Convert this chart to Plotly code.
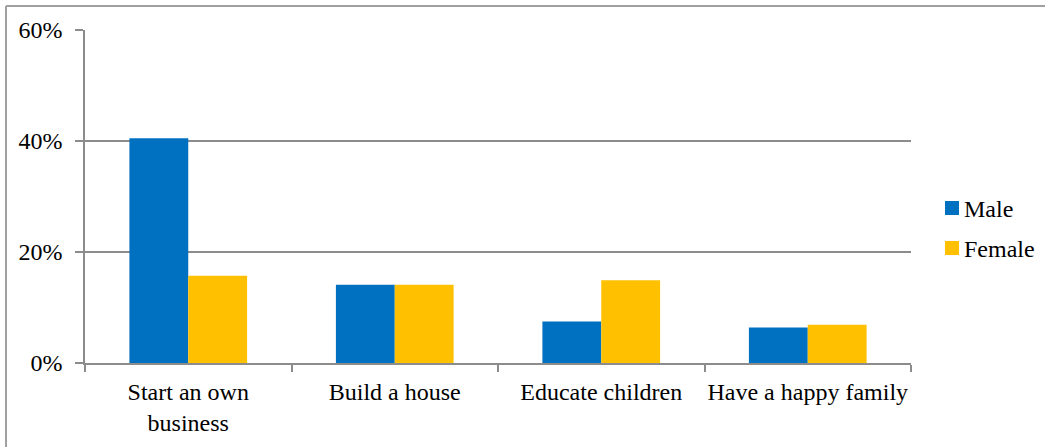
import plotly.graph_objects as go

categories = ["Start an own<br>business", "Build a house", "Educate children", "Have a happy family"]
series_names = ["Male", "Female"]
male = [40.5, 14.1, 7.5, 6.4]
female = [15.7, 14.1, 14.9, 6.9]
ytick_vals = [0, 20, 40, 60]
ytick_text = ["0%", "20%", "40%", "60%"]
colors = ["#0070C0", "#FFC000"]

W, H = 1045, 447
ml, mr, mt, mb = 85, 134, 30, 84
grid = "#8C8C8C"
font = dict(family="Liberation Serif, Times New Roman, serif", size=24, color="#000000")

fig = go.Figure()
for name, vals, col in zip(series_names, [male, female], colors):
    fig.add_trace(go.Bar(x=categories, y=vals, name=name, marker_color=col,
                         marker_line_width=0, showlegend=False))

pw = W - ml - mr
ph = H - mt - mb


def px_x(x):
    return (x - ml) / pw


def px_y(y):
    return 1 - (y - mt) / ph


# outer chart border (top and left edges visible)
fig.add_shape(type="line", xref="paper", yref="paper", x0=px_x(6), x1=px_x(W + 5),
              y0=px_y(6), y1=px_y(6), line=dict(color="#A0A0A0", width=2))
fig.add_shape(type="line", xref="paper", yref="paper", x0=px_x(6), x1=px_x(6),
              y0=px_y(6), y1=px_y(H + 5), line=dict(color="#A0A0A0", width=2))

# legend (squares + labels)
leg_centers = [208, 248]
for name, col, cy in zip(series_names, colors, leg_centers):
    fig.add_shape(type="rect", xref="paper", yref="paper",
                  x0=px_x(945), x1=px_x(959), y0=px_y(cy + 7), y1=px_y(cy - 7),
                  fillcolor=col, line=dict(width=0))
    fig.add_annotation(xref="paper", yref="paper", x=px_x(962), y=px_y(cy + 1),
                       text=name, showarrow=False, xanchor="left", yanchor="middle",
                       font=font)

fig.update_layout(
    width=W, height=H,
    margin=dict(l=ml, r=mr, t=mt, b=mb, pad=0, autoexpand=False),
    paper_bgcolor="white", plot_bgcolor="white",
    barmode="group", bargap=0.43, bargroupgap=0,
    font=font,
    showlegend=False,
    xaxis=dict(showline=True, linecolor=grid, linewidth=1.5, tickangle=0, automargin=False,
               ticks="outside", tickson="boundaries", ticklen=7, tickcolor=grid, tickwidth=1.5,
               showgrid=False, tickfont=font, ticklabelstandoff=6),
    yaxis=dict(range=[0, 60], tickvals=ytick_vals, ticktext=ytick_text, automargin=False,
               showline=True, linecolor=grid, linewidth=1.5,
               ticks="outside", ticklen=8, tickcolor=grid, tickwidth=1.5,
               showgrid=True, gridcolor=grid, gridwidth=1.5, zeroline=False,
               tickfont=font, ticklabelstandoff=8),
)

fig.write_html("out.html", config={"displayModeBar": False},
               post_script="document.body.style.margin='0px';document.body.style.overflow='hidden';")
